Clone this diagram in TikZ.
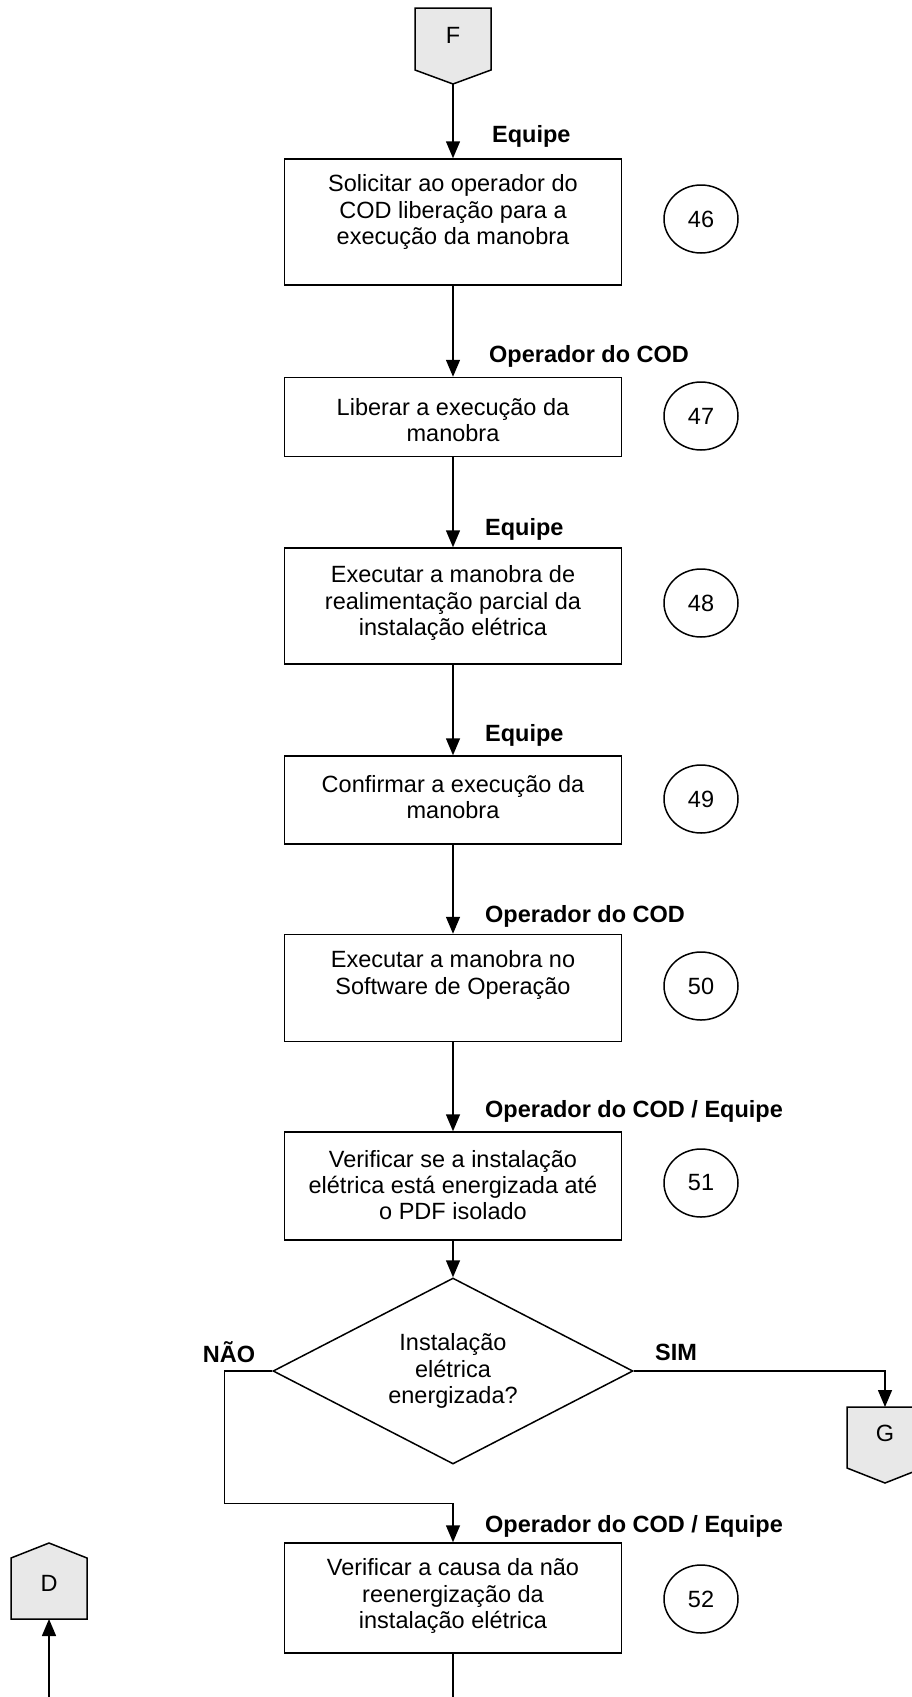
\documentclass[tikz,border=0pt]{standalone}
\usepackage{fontspec}
\setmainfont{Liberation Sans}
\usepackage{tikz}
\usetikzlibrary{
    positioning,
    arrows.meta,
    calc,
    shapes.geometric
}

\tikzset{
    stepbox/.style={draw, line width=1.5pt, minimum width=337pt, inner sep=0pt},
    steptext/.style={align=center, inner sep=0pt, font=\fontsize{23.5}{26.3}\selectfont},
    num/.style={draw, ellipse, line width=1.5pt, minimum width=74pt, minimum height=68pt, inner sep=0pt, font=\fontsize{23.5}{26}\selectfont},
    who/.style={anchor=west, inner sep=0pt, font=\fontsize{23.5}{26}\selectfont\bfseries},
    decision/.style={draw, diamond, aspect=2, line width=1.5pt, minimum width=360pt, minimum height=186pt, inner sep=0pt, align=center, font=\fontsize{23.5}{26.3}\selectfont},
    link/.style={draw, fill=gray!18, line width=1.5pt, line join=miter},
    linktext/.style={inner sep=0pt, font=\fontsize{23.5}{26}\selectfont},
    flow/.style={-{Triangle[length=17pt,width=14pt]}, line width=1.5pt}
}

\begin{document}
\begin{tikzpicture}[x=1pt,y=-1pt]
    \useasboundingbox (0,0) rectangle (912,1697);
    % 接続子
    \coordinate (Ftip) at (453,84);
    \coordinate (Gtop) at (885,1407);
    \coordinate (Dbot) at (49,1619);
    \coordinate (endM) at (453,1697);
    \coordinate (endD) at (49,1697);
    \path[link] (415,8) -- (491,8) -- (491,70) -- (Ftip) -- (415,70) -- cycle;
    \path[link] (847,1407) -- (923,1407) -- (923,1468) -- (885,1483) -- (847,1468) -- cycle;
    \path[link] (11,1619) -- (11,1558) -- (49,1543) -- (87,1558) -- (87,1619) -- cycle;
    \node[linktext] (F) at (453,35) {F};
    \node[linktext] (G) at (885,1433) {G};
    \node[linktext] (D) at (49,1583) {D};

    % 処理
    \node[stepbox, minimum height=126pt] (b46) at (453,222) {};
    \node[stepbox, minimum height=79pt] (b47) at (453,417) {};
    \node[stepbox, minimum height=116pt] (b48) at (453,606) {};
    \node[stepbox, minimum height=88pt] (b49) at (453,800) {};
    \node[stepbox, minimum height=107pt] (b50) at (453,988) {};
    \node[stepbox, minimum height=108pt] (b51) at (453,1186) {};
    \node[stepbox, minimum height=110pt] (b52) at (453,1598) {};
    \node[steptext] (t46) at (453,212) {Solicitar ao operador do\\COD liberação para a\\execução da manobra};
    \node[steptext] (t47) at (453,420) {Liberar a execução da\\manobra};
    \node[steptext] (t48) at (453,603) {Executar a manobra de\\realimentação parcial da\\instalação elétrica};
    \node[steptext] (t49) at (453,797) {Confirmar a execução da\\manobra};
    \node[steptext] (t50) at (453,975) {Executar a manobra no\\Software de Operação};
    \node[steptext] (t51) at (453,1185) {Verificar se a instalação\\elétrica está energizada até\\o PDF isolado};
    \node[steptext] (t52) at (453,1596) {Verificar a causa da não\\reenergização da\\instalação elétrica};
    \node[decision] (dec) at (453,1371) {Instalação\\elétrica\\energizada?};

    % 番号
    \foreach \n/\y in {46/219, 47/416, 48/603, 49/799, 50/986, 51/1183, 52/1599}
        \node[num] (n\n) at (701,\y) {\n};

    % 担当
    \node[who] (w46) at (492,136) {Equipe};
    \node[who] (w47) at (489,356) {Operador do COD};
    \node[who] (w48) at (485,529) {Equipe};
    \node[who] (w49) at (485,735) {Equipe};
    \node[who] (w50) at (485,916) {Operador do COD};
    \node[who] (w51) at (485,1111) {Operador do COD / Equipe};
    \node[who] (w52) at (485,1526) {Operador do COD / Equipe};
    \node[who, anchor=center] (nao) at (229,1352) {NÃO};
    \node[who, anchor=center] (sim) at (676,1352) {SIM};

    % 矢印
    \draw[flow] (Ftip) -- (b46.north);
    \draw[flow] (b46) -- (b47);
    \draw[flow] (b47) -- (b48);
    \draw[flow] (b48) -- (b49);
    \draw[flow] (b49) -- (b50);
    \draw[flow] (b50) -- (b51);
    \draw[flow] (b51) -- (dec.north);
    \draw[flow] (dec.east) -| (Gtop);
    \draw[flow] (dec.west) -- ++(-48,0) |- ($(b52.north)+(0,-39)$) -- (b52.north);
    \draw[line width=1.5pt] (b52.south) -- (endM);
    \draw[flow] (endD) -- (Dbot);
\end{tikzpicture}
\end{document}
